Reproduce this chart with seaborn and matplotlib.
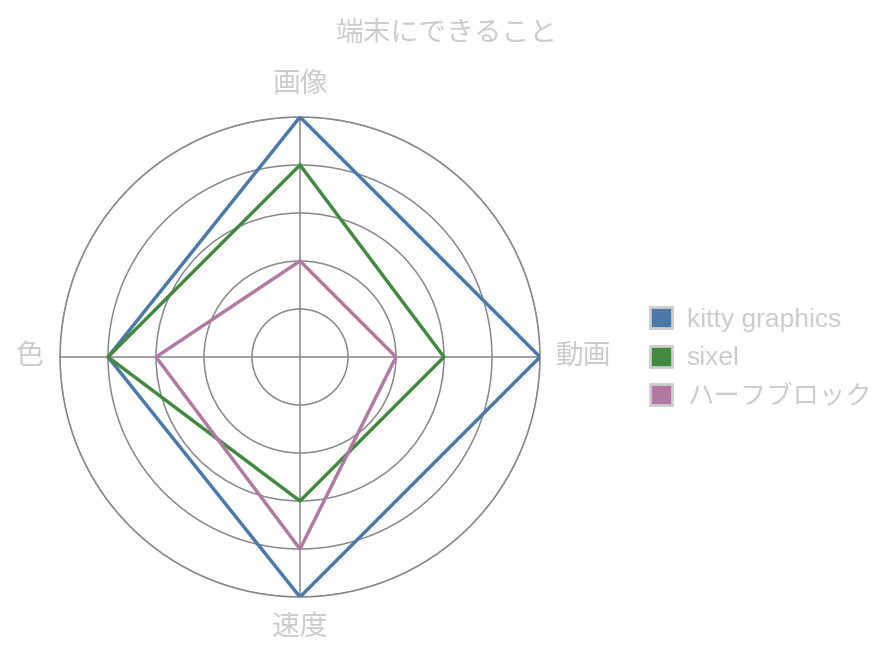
import numpy as np
import pandas as pd
import matplotlib
matplotlib.use("Agg")
import matplotlib.pyplot as plt
import seaborn as sns
from matplotlib.patches import Patch

# Data
axes_labels = ["画像", "動画", "速度", "色"]
kitty = [5, 5, 5, 4]
sixel = [4, 3, 3, 4]
halfblock = [2, 2, 4, 3]
series_names = ["kitty graphics", "sixel", "ハーフブロック"]
series_values = [kitty, sixel, halfblock]
colors = ["#4c78a8", "#428a3f", "#b279a2"]

sns.set_style("white")
plt.rcParams['font.family'] = ['Liberation Sans', 'Noto Sans CJK JP', 'DejaVu Sans']
text_color = "#cccccc"

angles = np.linspace(0, 2 * np.pi, len(axes_labels), endpoint=False)

rows = []
for name, vals in zip(series_names, series_values):
    for i, (a, v) in enumerate(zip(list(angles) + [angles[0]], vals + [vals[0]])):
        rows.append({"theta": a, "value": v, "series": name, "order": i})
df = pd.DataFrame(rows)

fig = plt.figure(figsize=(8.94, 6.61), dpi=100)
ax = fig.add_axes([60 / 894, 64 / 661, 480 / 894, 480 / 661], projection="polar")
ax.set_theta_offset(np.pi / 2)
ax.set_theta_direction(-1)

sns.lineplot(data=df, x="theta", y="value", hue="series", palette=colors,
             sort=False, estimator=None, units="series", linewidth=2.5,
             legend=False, ax=ax, zorder=3)

ax.set_ylim(0, 5)
ax.set_yticks([1, 2, 3, 4, 5])
ax.set_yticklabels([])
ax.set_xticks(angles)
ax.set_xticklabels([])
ax.set_xlabel("")
ax.set_ylabel("")
ax.grid(True, color="#888888", linewidth=1.1)
ax.spines["polar"].set_color("#888888")
ax.spines["polar"].set_linewidth(1.1)

# axis labels
offsets = [(0, 19, "center", "bottom"), (16, 0, "left", "center"),
           (0, -18, "center", "top"), (-17, 0, "right", "center")]
for a, lab, (dx, dy, ha, va) in zip(angles, axes_labels, offsets):
    ax.annotate(lab, xy=(a, 5), xytext=(dx, dy), textcoords="offset pixels",
                ha=ha, va=va, fontsize=20, color=text_color, annotation_clip=False)

fig.text(446 / 894, 1 - 34 / 661, "端末にできること", ha="center", va="center",
         fontsize=20, color=text_color)

handles = [Patch(facecolor=c, edgecolor="#cccccc", linewidth=2, label=n)
           for c, n in zip(colors, series_names)]
leg = fig.legend(handles=handles, loc="center left", bbox_to_anchor=(626 / 894, 1 - 358 / 661),
                 frameon=False, fontsize=19, handlelength=0.85, handleheight=0.85,
                 handletextpad=0.55, labelspacing=0.52, labelcolor=text_color)

fig.savefig("out.png", dpi=100)
